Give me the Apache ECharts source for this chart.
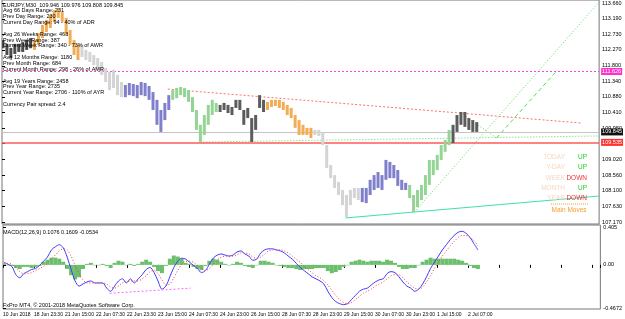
<!DOCTYPE html>
<html>
<head>
<meta charset="utf-8">
<script src="https://cdn.jsdelivr.net/npm/echarts@6/dist/echarts.min.js"></script>
<style>
html,body{margin:0;padding:0;background:#fff;}
#chart{width:625px;height:319px;}
</style>
</head>
<body>
<div id="chart"></div>
<script>
// bar slots (4px each), price bars high/low
var barHigh = [112.56,112.45,112.33,112.45,112.45,112.50,112.56,112.62,
  112.56,112.77,113.01,113.16,113.30,113.45,113.51,113.39,113.22,112.86,112.56,112.42,
  112.42,112.27,112.21,112.12,112.03,111.91,111.73,111.62,111.68,111.53,111.32,
  111.23,111.29,111.26,111.23,111.32,111.29,111.20,111.02,110.79,110.49,110.70,110.93,
  111.08,111.14,111.17,111.14,111.08,110.87,110.49,110.05,110.34,110.64,110.79,110.70,
  110.64,110.70,110.64,110.58,110.79,110.79,110.49,110.55,110.25,110.34,110.93,110.79,
  110.73,110.79,110.79,110.79,110.73,110.64,110.55,110.34,110.19,110.05,109.96,109.96,
  109.90,109.90,109.84,109.45,108.86,108.56,108.36,108.12,107.97,108.12,108.18,108.18,
  108.18,108.18,108.42,108.56,108.65,108.56,109.01,108.95,108.86,108.71,108.42,108.33,
  108.27,107.97,108.12,108.27,108.56,109.01,109.01,109.16,109.45,109.60,109.90,
  110.05,110.34,110.43,110.43,110.25,110.19,110.13];
var barLow = [112.32,112.12,112.03,112.15,112.21,112.21,112.27,112.32,
  112.27,112.42,112.62,112.80,112.92,113.10,113.22,113.10,112.71,112.42,112.12,111.97,
  112.06,111.97,111.91,111.82,111.68,111.53,111.32,111.08,111.14,110.93,110.87,
  110.87,110.93,110.90,110.84,110.93,110.90,110.79,110.49,110.05,109.84,110.19,110.49,
  110.79,110.84,110.93,110.87,110.73,110.43,109.90,109.54,109.75,110.05,110.34,110.43,
  110.43,110.49,110.40,110.34,110.55,110.49,110.05,110.25,109.54,109.90,110.55,110.43,
  110.49,110.58,110.61,110.55,110.49,110.34,110.25,109.96,109.75,109.75,109.75,109.66,
  109.75,109.72,109.45,108.77,108.47,108.18,107.97,107.67,107.32,107.67,107.88,107.82,
  107.76,107.73,107.97,108.12,108.18,108.12,108.42,108.47,108.47,108.24,108.12,108.12,
  107.88,107.47,107.61,107.82,107.97,108.27,108.56,108.71,109.01,109.25,109.45,
  109.51,109.84,110.05,109.99,109.90,109.84,109.84];
var segStart = [0,8,20,31,43,55,67,79,91,103,114];
var segColor = ['#4a4a4a','#f2ac55','#d4d4d4','#7f7fcc','#94d494','#5c5c5c','#f2ac55','#d4d4d4','#7f7fcc','#94d494','#5c5c5c'];

var macdMain = [0.028,0.006,-0.017,-0.106,-0.140,-0.095,-0.073,-0.050,-0.039,-0.006,
  0.039,0.084,0.162,0.196,0.218,0.185,0.084,-0.050,-0.174,-0.230,
  -0.207,-0.185,-0.174,-0.196,-0.196,-0.196,-0.252,-0.286,-0.230,-0.174,
  -0.151,-0.196,-0.151,-0.196,-0.151,-0.106,-0.050,-0.028,-0.084,-0.174,
  -0.263,-0.230,-0.129,-0.028,0.039,0.073,0.062,0.028,-0.006,-0.039,
  -0.084,-0.062,0.006,0.073,0.106,0.118,0.106,0.095,0.106,0.140,
  0.151,0.118,0.095,0.050,0.062,0.129,0.162,0.174,0.174,0.162,
  0.151,0.129,0.095,0.062,0.017,-0.028,-0.062,-0.095,-0.129,-0.151,
  -0.174,-0.207,-0.286,-0.353,-0.398,-0.420,-0.431,-0.420,-0.375,-0.330,
  -0.286,-0.263,-0.252,-0.218,-0.185,-0.162,-0.151,-0.095,-0.073,-0.084,
  -0.129,-0.185,-0.230,-0.252,-0.286,-0.263,-0.207,-0.129,-0.039,0.028,
  0.095,0.162,0.218,0.274,0.319,0.353,0.364,0.342,0.297,0.230,
  0.162];
var macdSignal = [0.017,0.017,0.006,-0.028,-0.073,-0.095,-0.095,-0.084,-0.062,-0.039,
  -0.017,0.017,0.062,0.106,0.151,0.174,0.162,0.095,-0.006,-0.095,
  -0.162,-0.196,-0.196,-0.196,-0.196,-0.196,-0.207,-0.241,-0.252,-0.230,
  -0.196,-0.185,-0.174,-0.174,-0.174,-0.151,-0.118,-0.073,-0.062,-0.095,
  -0.162,-0.218,-0.207,-0.140,-0.062,0.006,0.039,0.039,0.028,-0.006,
  -0.039,-0.062,-0.039,0.006,0.050,0.084,0.095,0.095,0.095,0.106,
  0.129,0.129,0.118,0.084,0.073,0.084,0.118,0.151,0.162,0.162,
  0.162,0.151,0.129,0.095,0.062,0.028,-0.017,-0.050,-0.084,-0.118,
  -0.140,-0.174,-0.218,-0.274,-0.330,-0.375,-0.409,-0.420,-0.409,-0.375,
  -0.342,-0.308,-0.286,-0.263,-0.230,-0.207,-0.185,-0.151,-0.118,-0.106,
  -0.106,-0.140,-0.185,-0.218,-0.252,-0.263,-0.241,-0.185,-0.118,-0.039,
  0.028,0.095,0.151,0.207,0.252,0.297,0.319,0.319,0.297,0.263,
  0.207];
var macdHist = [0.011,0,-0.011,-0.034,-0.045,-0.022,-0.022,-0.034,-0.022,-0.011,
  0.034,0.056,0.078,0.078,0.067,0.034,-0.045,-0.112,-0.157,-0.134,
  -0.045,0.011,0.022,0,0,0.011,-0.011,-0.034,0.022,0.045,
  0.034,0,0.011,-0.011,0.011,0.034,0.056,0.034,-0.022,-0.067,
  -0.090,-0.011,0.067,0.101,0.090,0.067,0.022,0.011,-0.022,-0.045,
  -0.056,-0.011,0.045,0.067,0.056,0.034,0.011,0,0.011,0.034,
  0.022,-0.011,-0.022,-0.034,0,0.045,0.045,0.034,0.022,0,
  -0.011,-0.022,-0.034,-0.034,-0.045,-0.056,-0.045,-0.045,-0.045,-0.034,
  -0.034,-0.034,-0.067,-0.090,-0.078,-0.056,-0.022,0,0.034,0.045,
  0.056,0.045,0.034,0.045,0.045,0.045,0.034,0.056,0.045,0.022,
  -0.022,-0.045,-0.045,-0.034,-0.034,0,0.034,0.056,0.078,0.067,
  0.067,0.067,0.067,0.067,0.067,0.056,0.045,0.022,-0.011,-0.034,
  -0.045];

// trend lines [slot, price]
var redTrend = [[42,111.11],[147,110.10]];
var greenFlat = [[50.25,109.54],[151.25,109.72]];
var greenSteep = [[104.5,107.47],[151.25,113.69]];
var greenV = [[116.25,110.40],[125.25,109.66]];
var greenDash = [[125.25,109.66],[140.75,111.68]];
var tealTrend = [[87,107.29],[151.25,107.94]];
var macdDiv = [[27,-0.308],[47.5,-0.252]];

var pinkLevel = 111.626, bidLevel = 109.845, redLevel = 109.535;

var priceTicks = [113.66,113.19,112.73,112.27,111.80,111.34,110.88,110.41,109.95,109.49,109.02,108.56,108.10,107.63,107.17];
var macdTicks = [0.405,0,-0.4672];
var timeLabels = ['10 Jun 2018','18 Jun 23:30','21 Jun 15:00','22 Jun 07:30','22 Jun 23:30','23 Jun 15:00',
  '24 Jun 07:30','24 Jun 23:00','26 Jun 15:00','28 Jun 07:30','28 Jun 23:00','29 Jun 15:00',
  '30 Jun 07:00','30 Jun 23:00','1 Jul 15:00','2 Jul 07:00'];

var infoLines = ['EURJPY,M30  109.946 109.976 109.808 109.845','Avg 66 Days Range: 231','Prev Day Range: 230',
  'Current Day Range: 94 - 40% of ADR','','Avg 26 Weeks Range: 463','Prev Week Range: 387',
  'Current Week Range: 340 - 73% of AWR','','Avg 12 Months Range: 1180','Prev Month Range: 684',
  'Current Month Range: 298 - 26% of AMR','','Avg 19 Years Range: 2458','Prev Year Range: 2735',
  'Current Year Range: 2706 - 110% of AYR','','Currency Pair spread: 2.4'];
var moveNames = ['TODAY','Y-DAY','WEEK','MONTH','YEAR'];
var moveDirs = ['UP','UP','DOWN','UP','DOWN'];

var FONT = '"Liberation Sans Narrow", "Liberation Sans", Arial, sans-serif';
var FONT_WIDE = '"Liberation Sans", Arial, sans-serif';
var STEP = 7.85;

function colorAt(i){
  var c = segColor[0];
  for(var k=0;k<segStart.length;k++){ if(i>=segStart[k]) c = segColor[k]; }
  return c;
}

var chart = echarts.init(document.getElementById('chart'));

function trend(data, color, type, width, xi){
  return {type:'line', xAxisIndex:xi||0, yAxisIndex:xi||0, data:data, symbol:'none', silent:true, z:4,
    lineStyle:{color:color, type:type, width:width||1}};
}

function level(value, lineColor, lineType, boxColor, width){
  return {type:'line', xAxisIndex:0, yAxisIndex:0, data:[], silent:true, z:3,
    markLine:{symbol:'none', silent:true, animation:false,
      lineStyle:{color:lineColor, type:lineType, width:width||1},
      label:{show:true, position:'end', formatter:value.toFixed(3), color:'#fff', backgroundColor:boxColor,
        fontSize:5.5, fontFamily:FONT, padding:[1,1,0,1], distance:2},
      data:[{yAxis:value}]}};
}

var xBase = {type:'value', min:0, max:151.25, interval:STEP, splitLine:{show:false}};

var graphics = [
  {type:'text', left:3, top:2, z:100, style:{text:infoLines.join('\n'), fontSize:5.5, fontFamily:FONT, lineHeight:5.85, fill:'#000'}},
  {type:'text', left:3, top:229, z:100, style:{text:'MACD(12,26,9) 0.1076 0.1609 -0.0534', fontSize:5.5, fontFamily:FONT, fill:'#000'}},
  {type:'text', left:3, top:302, z:100, style:{text:'FxPro MT4, \u00a9 2001-2018 MetaQuotes Software Corp.', fontSize:5.5, fontFamily:FONT, fill:'#000'}},
  {type:'line', z:100, shape:{x1:551, y1:204, x2:588, y2:204}, style:{stroke:'#f0a030', lineDash:[1,1], lineWidth:1}},
  {type:'text', x:569, y:210, z:100, style:{text:'Main Moves', align:'center', verticalAlign:'middle', fontSize:6.5, fontFamily:FONT_WIDE, fill:'#f0a030'}}
];
var rowY = [157,167,178,188,198];
moveNames.forEach(function(n, r){
  graphics.push({type:'text', x:565, y:rowY[r], z:100, style:{text:n, align:'right', verticalAlign:'middle', fontSize:6.5, fontFamily:FONT_WIDE, fill:'#f6d6c2'}});
  graphics.push({type:'text', x:587, y:rowY[r], z:100, style:{text:moveDirs[r], align:'right', verticalAlign:'middle', fontSize:6.5, fontFamily:FONT_WIDE,
    fill: moveDirs[r]==='UP' ? '#22cc22' : '#ee3333'}});
});

var option = {
  animation:false,
  backgroundColor:'#fff',
  textStyle:{fontFamily:FONT},
  grid:[
    {left:2, right:18, top:0, height:224, show:true, borderColor:'#777', borderWidth:1},
    {left:2, right:18, top:225, height:84, show:true, borderColor:'#777', borderWidth:1}
  ],
  xAxis:[
    Object.assign({}, xBase, {gridIndex:0, show:false}),
    Object.assign({}, xBase, {gridIndex:1, axisLine:{show:false},
      axisTick:{show:true, length:3, lineStyle:{color:'#000'}},
      axisLabel:{fontSize:5, fontFamily:FONT, color:'#000', align:'left', margin:3, showMinLabel:true, showMaxLabel:true,
        formatter:function(v){ return timeLabels[Math.round(v/STEP)] || ''; }}})
  ],
  yAxis:[
    {gridIndex:0, type:'value', position:'right', min:107.111, max:113.749, splitLine:{show:false},
      axisLine:{show:false}, axisTick:{show:true, length:3, customValues:priceTicks, lineStyle:{color:'#000'}},
      axisLabel:{customValues:priceTicks, fontSize:5.5, fontFamily:FONT, color:'#000', margin:3, formatter:function(v){ return v.toFixed(3); }}},
    {gridIndex:1, type:'value', position:'right', min:-0.478, max:0.432, splitLine:{show:false},
      axisLine:{show:false}, axisTick:{show:true, length:3, customValues:macdTicks, lineStyle:{color:'#000'}},
      axisLabel:{customValues:macdTicks, fontSize:5.5, fontFamily:FONT, color:'#000', margin:3,
        formatter:function(v){ return v===0 ? '0.00' : String(v); }}}
  ],
  graphic:{elements:graphics},
  series:[
    level(pinkLevel, '#ff44dd', [2,2], '#ff33cc'),
    level(bidLevel, '#c4c4c4', 'solid', '#111'),
    level(redLevel, '#ff5a5a', 'solid', '#ff3030', 1.5),
    {type:'custom', xAxisIndex:0, yAxisIndex:0, z:5, clip:true,
      data: barHigh.map(function(h,i){ return [i+0.25, barLow[i], h]; }),
      renderItem:function(params, api){
        var x = api.value(0);
        var lo = api.coord([x, api.value(1)]);
        var hi = api.coord([x, api.value(2)]);
        return {type:'rect', shape:{x:lo[0]-1.5, y:hi[1], width:3, height:Math.max(1, lo[1]-hi[1])},
          style:{fill:colorAt(params.dataIndex)}};
      }},
    trend(redTrend, '#ff6f6f', [2,2]),
    trend(greenFlat, '#55dd55', [1,2]),
    trend(greenSteep, '#55dd55', [1,2]),
    trend(greenV, '#55dd55', [1,2]),
    trend(greenDash, '#55dd55', [4,3]),
    trend(tealTrend, '#3fe0a8', 'solid'),
    {type:'custom', xAxisIndex:1, yAxisIndex:1, z:2, clip:true,
      data: macdHist.map(function(v,i){ return [i+0.25, v]; }),
      renderItem:function(params, api){
        var x = api.value(0);
        var a = api.coord([x, 0]);
        var b = api.coord([x, api.value(1)]);
        return {type:'rect', shape:{x:a[0]-2, y:Math.min(a[1],b[1]), width:4, height:Math.max(0.5, Math.abs(a[1]-b[1]))},
          style:{fill:'#6cbf6c'}};
      }},
    {type:'line', xAxisIndex:1, yAxisIndex:1, symbol:'none', smooth:0.3, z:4, silent:true,
      data: macdMain.map(function(v,i){ return [i+0.25, v]; }), lineStyle:{color:'#3c3cff', width:1}},
    {type:'line', xAxisIndex:1, yAxisIndex:1, symbol:'none', smooth:0.3, z:4, silent:true,
      data: macdSignal.map(function(v,i){ return [i+0.25, v]; }), lineStyle:{color:'#ff3a3a', width:1, type:[1,2]}},
    trend(macdDiv, '#ff66ff', [2,2], 1, 1)
  ]
};
chart.setOption(option);
</script>
</body>
</html>
